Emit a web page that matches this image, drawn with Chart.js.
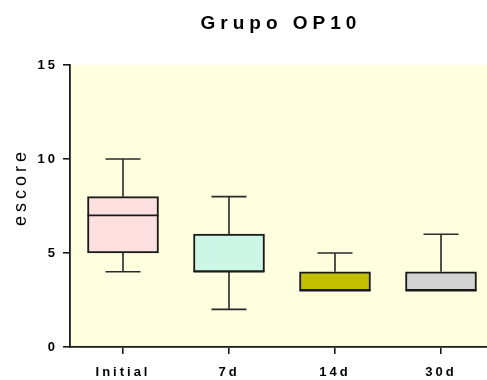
<!DOCTYPE html>
<html>
<head>
<meta charset="utf-8">
<script src="https://cdn.jsdelivr.net/npm/chart.js@4.4.1/dist/chart.umd.min.js"></script>
<style>
  html, body { margin: 0; padding: 0; background: #ffffff; }
  #wrap { width: 487px; height: 380px; }
</style>
</head>
<body>
<div id="wrap"><canvas id="c" width="487" height="380"></canvas></div>
<script>
// Groups and five-number summaries of the score
const groups = ['Initial', '7d', '14d', '30d'];
const mins    = [4, 2, 3, 3];
const q1s     = [5, 4, 3, 3];
const medians = [7, 4, 3, 3];
const q3s     = [8, 6, 4, 4];
const maxs    = [10, 8, 5, 6];
const boxColors = ['#ffe0e0', '#ccf7e6', '#c4c000', '#d3d3d3'];
const yTicks = [0, 5, 10, 15];

const chartTitle = 'Grupo OP10';
const yTitle = 'escore';
const FONT = "'Liberation Sans', Arial, Helvetica, sans-serif";

// Plot background, whiskers, medians and spaced-out titles
const boxPlotPlugin = {
  id: 'boxPlot',
  beforeDraw(chart) {
    const { ctx, chartArea: a } = chart;
    ctx.save();
    ctx.fillStyle = '#ffffe0';
    ctx.fillRect(a.left, a.top, a.right - a.left, a.bottom - a.top);
    ctx.restore();
    // letter spacing used by the axis tick labels
    ctx.letterSpacing = '3px';
  },
  beforeDatasetsDraw(chart) {
    const { ctx, scales: { x, y } } = chart;
    ctx.save();
    ctx.strokeStyle = '#2a2a2a';
    ctx.lineWidth = 1.6;
    groups.forEach((g, i) => {
      const cx = x.getPixelForValue(i + 1);
      const capHalf = 17.5;
      ctx.beginPath();
      // upper whisker
      ctx.moveTo(cx, y.getPixelForValue(q3s[i]));
      ctx.lineTo(cx, y.getPixelForValue(maxs[i]));
      ctx.moveTo(cx - capHalf, y.getPixelForValue(maxs[i]));
      ctx.lineTo(cx + capHalf, y.getPixelForValue(maxs[i]));
      // lower whisker
      if (mins[i] < q1s[i]) {
        ctx.moveTo(cx, y.getPixelForValue(q1s[i]));
        ctx.lineTo(cx, y.getPixelForValue(mins[i]));
        ctx.moveTo(cx - capHalf, y.getPixelForValue(mins[i]));
        ctx.lineTo(cx + capHalf, y.getPixelForValue(mins[i]));
      }
      ctx.stroke();
    });
    ctx.restore();
  },
  afterDatasetsDraw(chart) {
    const { ctx, scales: { y } } = chart;
    const meta = chart.getDatasetMeta(0);
    ctx.save();
    ctx.strokeStyle = '#1a1a1a';
    ctx.lineWidth = 1.6;
    meta.data.forEach((bar, i) => {
      const half = bar.width / 2;
      const py = y.getPixelForValue(medians[i]);
      ctx.beginPath();
      ctx.moveTo(bar.x - half, py);
      ctx.lineTo(bar.x + half, py);
      ctx.stroke();
    });
    ctx.restore();
  },
  afterDraw(chart) {
    const { ctx, chartArea: a } = chart;
    ctx.save();
    ctx.fillStyle = '#000000';
    ctx.textBaseline = 'middle';
    ctx.textAlign = 'left';
    // chart title
    ctx.letterSpacing = '5px';
    ctx.font = 'bold 19px ' + FONT;
    let w = ctx.measureText(chartTitle).width - 5;
    ctx.fillText(chartTitle, (a.left + a.right) / 2 - w / 2, 24);
    // y-axis title
    ctx.letterSpacing = '4px';
    ctx.font = '18px ' + FONT;
    w = ctx.measureText(yTitle).width - 4;
    ctx.translate(21, (a.top + a.bottom) / 2 - 17);
    ctx.rotate(-Math.PI / 2);
    ctx.fillText(yTitle, -w / 2, 0);
    ctx.restore();
  }
};

new Chart(document.getElementById('c'), {
  type: 'bar',
  data: {
    datasets: [{
      data: groups.map((g, i) => ({ x: i + 1, y: [q1s[i], q3s[i]] })),
      backgroundColor: boxColors,
      borderColor: '#1a1a1a',
      borderWidth: 2,
      borderSkipped: false,
      barThickness: 71
    }]
  },
  options: {
    responsive: false,
    animation: false,
    layout: { padding: { top: 65, right: 0, left: 0, bottom: 0 } },
    plugins: {
      legend: { display: false },
      tooltip: { enabled: false },
      title: { display: false }
    },
    scales: {
      x: {
        type: 'linear',
        offset: false,
        min: 0.5,
        max: 4.434,
        afterBuildTicks(scale) {
          scale.ticks = groups.map((g, i) => ({ value: i + 1 }));
        },
        afterFit(scale) { scale.height = 33; },
        ticks: {
          callback: (v) => groups[v - 1] || '',
          color: '#000000',
          font: { family: FONT, size: 13, weight: 'bold' },
          padding: 11,
          maxRotation: 0,
          autoSkip: false
        },
        grid: {
          offset: false,
          drawOnChartArea: false,
          drawTicks: true,
          tickLength: 7,
          color: '#1a1a1a',
          lineWidth: 1.6
        },
        border: { color: '#1a1a1a', width: 1.8 }
      },
      y: {
        min: 0,
        max: 15,
        afterBuildTicks(scale) {
          scale.ticks = yTicks.map(v => ({ value: v }));
        },
        afterFit(scale) { scale.width = 70; },
        ticks: {
          color: '#000000',
          font: { family: FONT, size: 13, weight: 'bold' },
          padding: 5
        },
        grid: {
          drawOnChartArea: false,
          drawTicks: true,
          tickLength: 7,
          color: '#1a1a1a',
          lineWidth: 1.6
        },
        border: { color: '#1a1a1a', width: 1.8 }
      }
    }
  },
  plugins: [boxPlotPlugin]
});
</script>
</body>
</html>
